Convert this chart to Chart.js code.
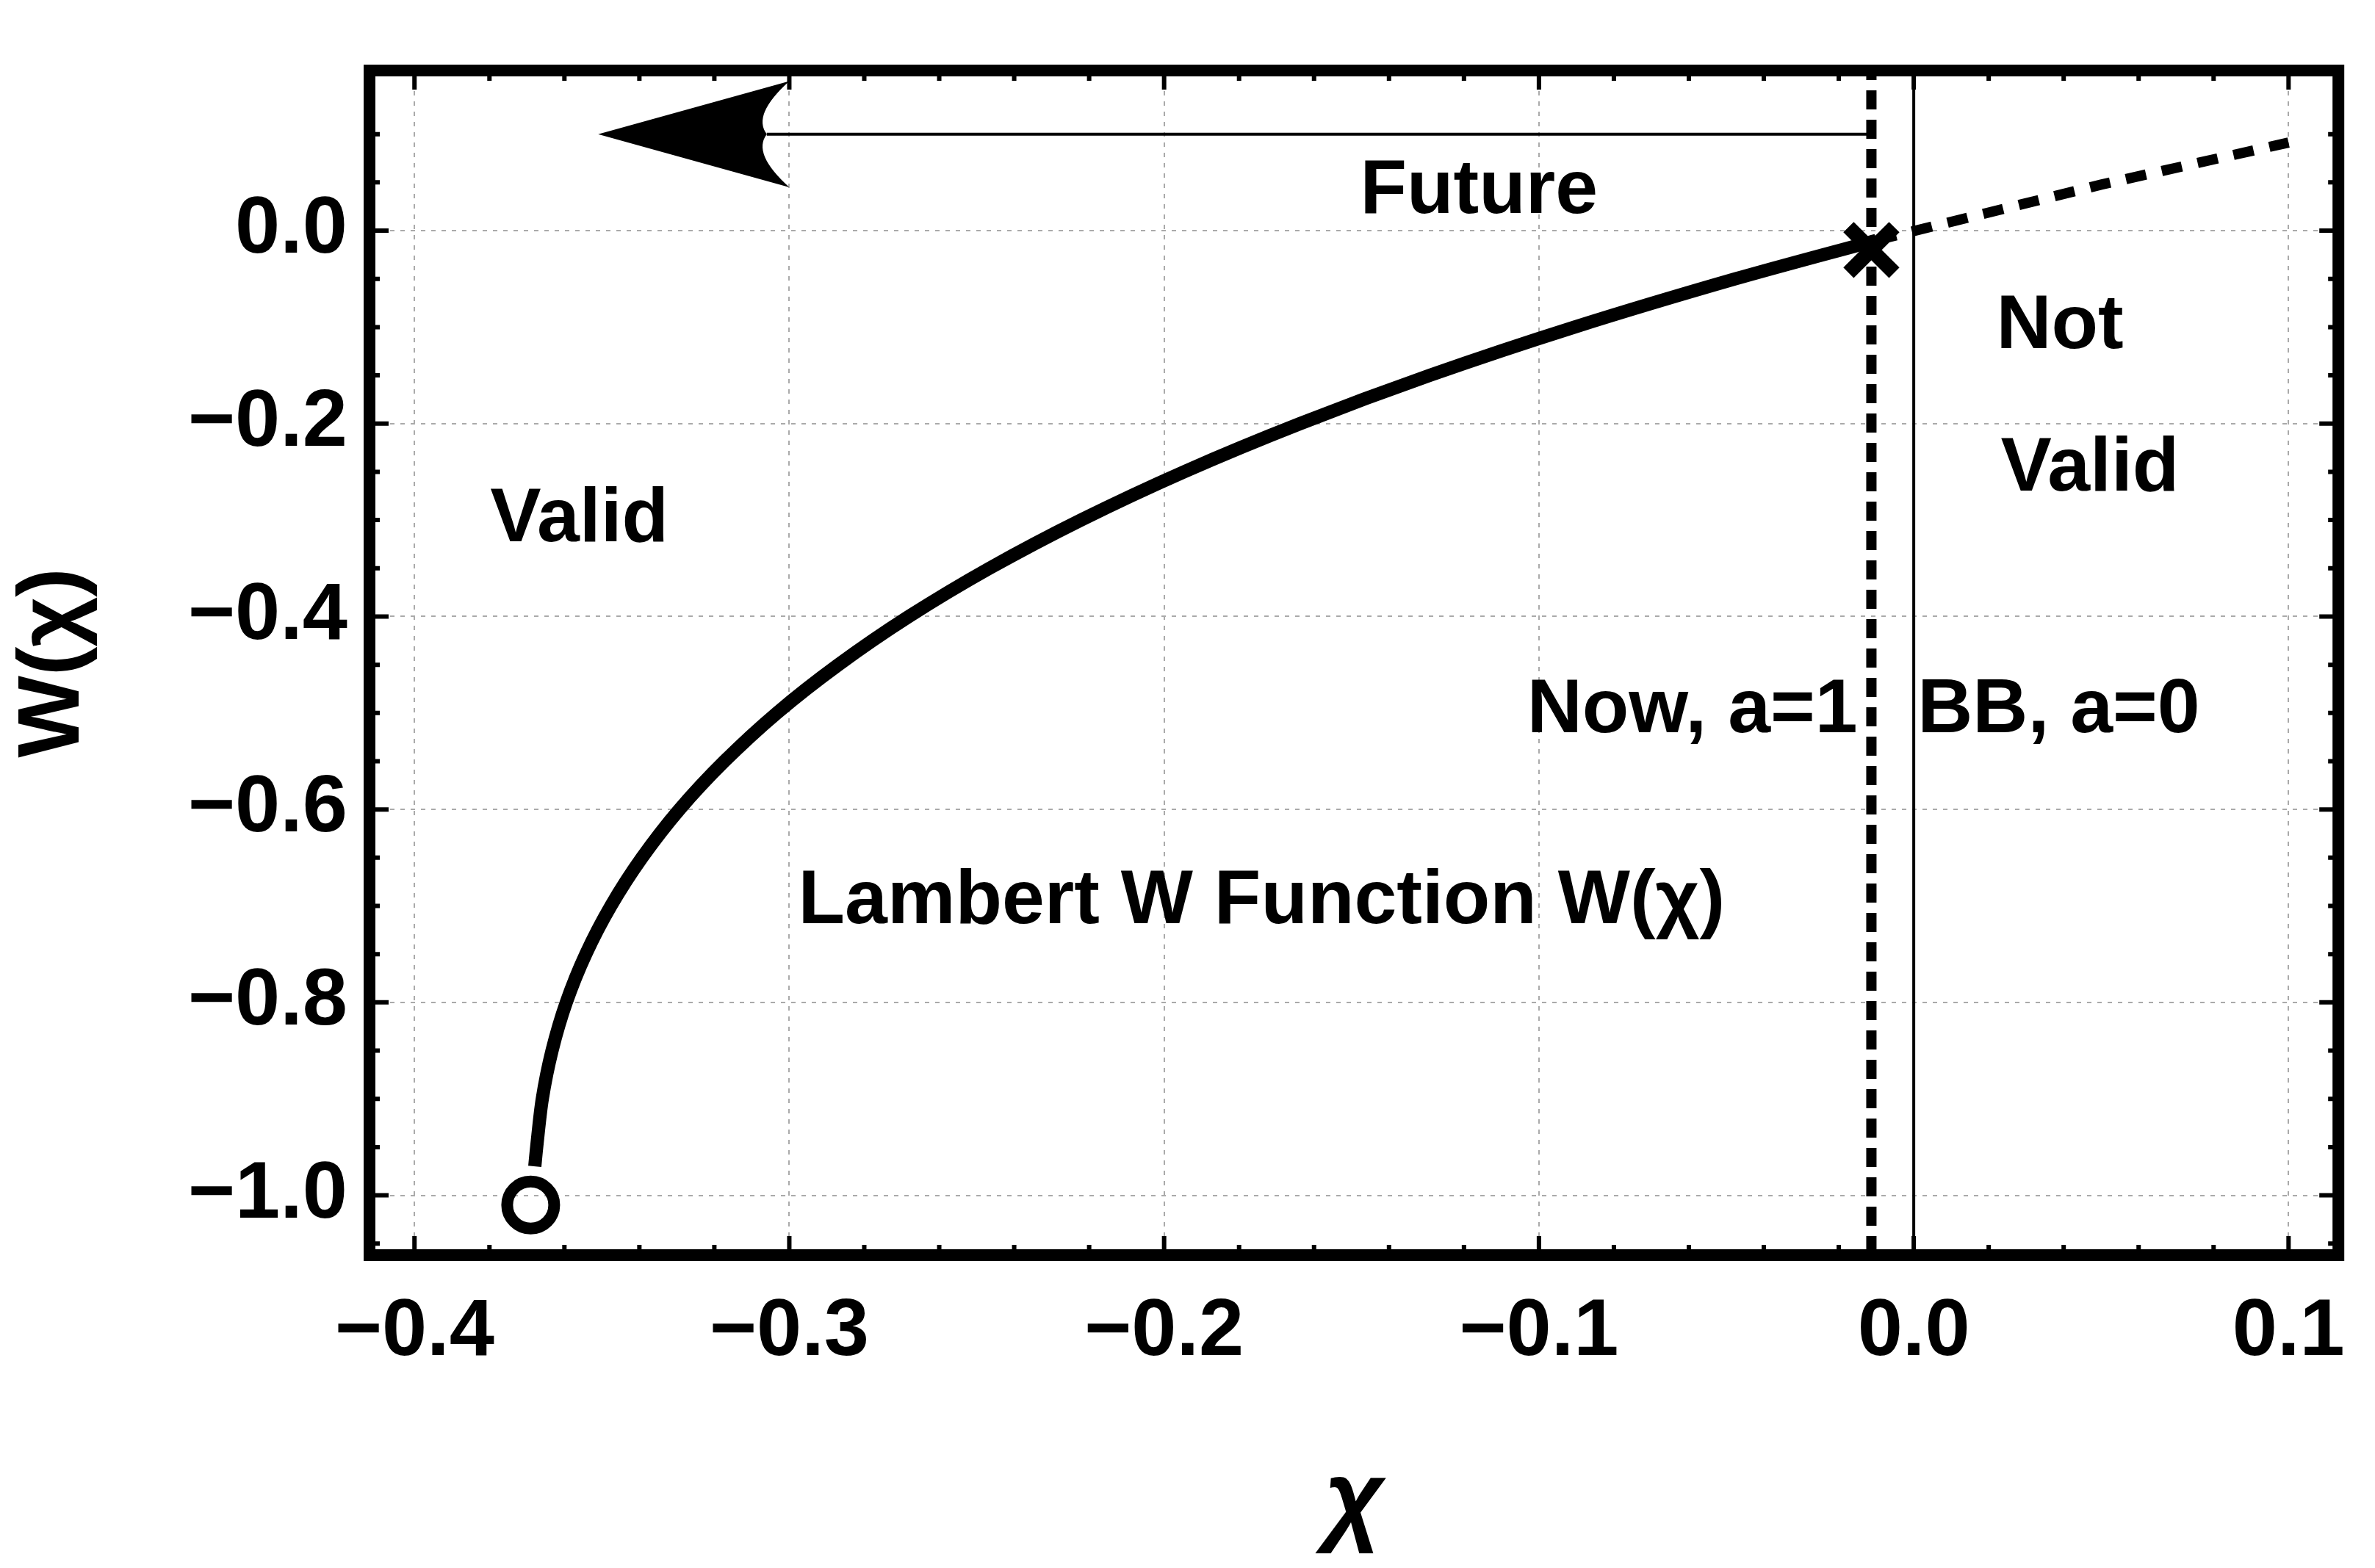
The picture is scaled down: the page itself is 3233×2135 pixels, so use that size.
<!DOCTYPE html>
<html>
<head>
<meta charset="utf-8">
<script src="https://cdn.jsdelivr.net/npm/chart.js@4.4.1/dist/chart.umd.min.js"></script>
<style>
  html, body { margin: 0; padding: 0; background: #fff; }
  #wrap { width: 3233px; height: 2135px; }
</style>
</head>
<body>
<div id="wrap"><canvas id="c"></canvas></div>
<script>
// Lambert W curve
const curveX = [-0.3679, -0.3674, -0.3659, -0.3633, -0.3595, -0.3543, -0.3476, -0.3393, -0.3293, -0.3173,
                -0.3033, -0.2869, -0.2681, -0.2466, -0.2222, -0.1947, -0.1637, -0.1291, -0.0905, -0.0476, -0.0100];
const curveW = [-0.97, -0.95, -0.90, -0.85, -0.80, -0.75, -0.70, -0.65, -0.60, -0.55,
                -0.50, -0.45, -0.40, -0.35, -0.30, -0.25, -0.20, -0.15, -0.10, -0.05, -0.0101];
// dashed continuation beyond the present
const extX = [-0.010, 0.05, 0.10];
const extW = [-0.0101, 0.0477, 0.0913];

const nowX = -0.0113;
const bbX = 0.0;
const arrowY = 0.10;
const arrowTipX = -0.351;
const arrowBackX = -0.30;
const arrowNotchX = -0.306;
const arrowTopY = 0.155;
const arrowBotY = 0.045;

const startPoint = { x: -0.369, y: -1.01 };
const nowPoint = { x: -0.0113, y: -0.02 };

const xTicks = [-0.4, -0.3, -0.2, -0.1, 0.0, 0.1];
const yTicks = [-1.0, -0.8, -0.6, -0.4, -0.2, 0.0];
const xMin = -0.412, xMax = 0.1133, yMin = -1.062, yMax = 0.166;

// annotations: [text, x, y, align]
const labels = [
  ["Future", -0.116, 0.04, "center"],
  ["Not", 0.039, -0.10, "center"],
  ["Valid", 0.047, -0.248, "center"],
  ["Valid", -0.356, -0.30, "center"],
  ["Now, a=1", -0.015, -0.498, "right"],
  ["BB, a=0", 0.001, -0.498, "left"],
  ["Lambert W Function W(\u03C7)", -0.174, -0.696, "center"]
];

const FONT = "Arimo, 'Liberation Sans', Arial, sans-serif";
const fmt = v => (Math.abs(v) < 1e-9 ? "0.0" : (v < 0 ? "\u2212" : "") + Math.abs(v).toFixed(1));

const overlay = {
  id: "overlay",
  afterDatasetsDraw(chart) {
    const { ctx, chartArea: a, scales: { x, y } } = chart;
    ctx.save();
    // arrow head
    ctx.fillStyle = "#000";
    ctx.beginPath();
    ctx.moveTo(x.getPixelForValue(arrowTipX), y.getPixelForValue(arrowY));
    ctx.lineTo(x.getPixelForValue(arrowBackX), y.getPixelForValue(arrowTopY));
    ctx.quadraticCurveTo(x.getPixelForValue(arrowNotchX - 0.004), y.getPixelForValue(arrowY + 0.02),
                         x.getPixelForValue(arrowNotchX), y.getPixelForValue(arrowY));
    ctx.quadraticCurveTo(x.getPixelForValue(arrowNotchX - 0.004), y.getPixelForValue(arrowY - 0.02),
                         x.getPixelForValue(arrowBackX), y.getPixelForValue(arrowBotY));
    ctx.closePath();
    ctx.fill();
    // labels
    ctx.font = "bold 104px " + FONT;
    ctx.textBaseline = "middle";
    labels.forEach(([t, lx, ly, al]) => {
      ctx.textAlign = al;
      ctx.fillText(t, x.getPixelForValue(lx), y.getPixelForValue(ly));
    });
    // frame ticks (inward)
    ctx.lineWidth = 6;
    ctx.beginPath();
    for (let v = -0.4; v <= 0.1001; v += 0.02) {
      const px = x.getPixelForValue(v);
      const major = Math.abs(Math.round(v * 10) - v * 10) < 1e-6;
      const L = major ? 26 : 14;
      ctx.moveTo(px, a.bottom); ctx.lineTo(px, a.bottom - L);
      ctx.moveTo(px, a.top); ctx.lineTo(px, a.top + L);
    }
    for (let v = -1.05; v <= 0.15; v += 0.05) {
      const py = y.getPixelForValue(v);
      const major = Math.abs(Math.round(v * 5) - v * 5) < 1e-6;
      const L = major ? 26 : 14;
      ctx.moveTo(a.left, py); ctx.lineTo(a.left + L, py);
      ctx.moveTo(a.right, py); ctx.lineTo(a.right - L, py);
    }
    ctx.stroke();
    // frame
    ctx.lineWidth = 16;
    ctx.strokeRect(a.left, a.top, a.right - a.left, a.bottom - a.top);
    ctx.restore();
  }
};

const pts = (xs, ys) => xs.map((v, i) => ({ x: v, y: ys[i] }));

new Chart(document.getElementById("c"), {
  type: "scatter",
  data: {
    datasets: [
      { data: pts(curveX, curveW), showLine: true, borderColor: "#000", borderWidth: 18, pointRadius: 0, tension: 0.3 },
      { data: pts(extX, extW), showLine: true, borderColor: "#000", borderWidth: 14, borderDash: [28, 22], pointRadius: 0 },
      { data: [{ x: nowX, y: yMin }, { x: nowX, y: yMax }], showLine: true, borderColor: "#000", borderWidth: 14, borderDash: [26, 14], pointRadius: 0 },
      { data: [{ x: bbX, y: yMin }, { x: bbX, y: yMax }], showLine: true, borderColor: "#000", borderWidth: 4, pointRadius: 0 },
      { data: [{ x: nowX, y: arrowY }, { x: arrowNotchX, y: arrowY }], showLine: true, borderColor: "#000", borderWidth: 4, pointRadius: 0 },
      { data: [startPoint], pointStyle: "circle", pointRadius: 32, borderWidth: 16, borderColor: "#000", backgroundColor: "rgba(0,0,0,0)" },
      { data: [nowPoint], pointStyle: "crossRot", pointRadius: 44, borderWidth: 20, borderColor: "#000" }
    ]
  },
  options: {
    responsive: true,
    maintainAspectRatio: false,
    animation: false,
    events: [],
    layout: { autoPadding: false, padding: { top: 37, right: 48, left: 0, bottom: 0 } },
    plugins: { legend: { display: false }, tooltip: { enabled: false } },
    scales: {
      x: {
        type: "linear", min: xMin, max: xMax,
        afterBuildTicks: s => { s.ticks = xTicks.map(v => ({ value: v })); },
        afterFit: s => { s.height = 426; },
        ticks: { callback: fmt, color: "#000", font: { family: FONT, size: 110, weight: "bold" }, padding: 40, maxRotation: 0 },
        grid: { color: "#aaa", lineWidth: 2, drawTicks: false },
        border: { display: false, dash: [6, 8] },
        title: { display: true, text: "\u03C7", color: "#000", font: { family: FONT, size: 140, style: "italic", weight: "bold" }, padding: { top: 30 } }
      },
      y: {
        type: "linear", min: yMin, max: yMax,
        afterBuildTicks: s => { s.ticks = yTicks.map(v => ({ value: v })); },
        afterFit: s => { s.width = 503; },
        ticks: { callback: fmt, color: "#000", font: { family: FONT, size: 110, weight: "bold" }, padding: 30 },
        grid: { color: "#aaa", lineWidth: 2, drawTicks: false },
        border: { display: false, dash: [6, 8] },
        title: { display: true, text: "W(\u03C7)", color: "#000", font: { family: FONT, size: 118, weight: "bold" }, padding: { bottom: 0 } }
      }
    }
  },
  plugins: [overlay]
});
</script>
</body>
</html>
